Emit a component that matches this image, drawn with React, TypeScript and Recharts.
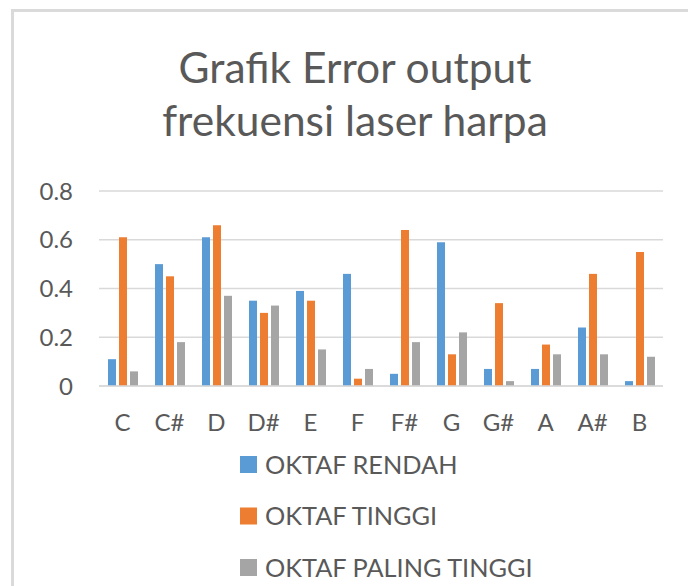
import React from 'react';
import { BarChart, Bar, XAxis, YAxis, CartesianGrid } from 'recharts';

const categories = ['C', 'C#', 'D', 'D#', 'E', 'F', 'F#', 'G', 'G#', 'A', 'A#', 'B'];
const oktafRendah = [0.11, 0.5, 0.61, 0.35, 0.39, 0.46, 0.05, 0.59, 0.07, 0.07, 0.24, 0.02];
const oktafTinggi = [0.61, 0.45, 0.66, 0.3, 0.35, 0.03, 0.64, 0.13, 0.34, 0.17, 0.46, 0.55];
const oktafPalingTinggi = [0.06, 0.18, 0.37, 0.33, 0.15, 0.07, 0.18, 0.22, 0.02, 0.13, 0.13, 0.12];
const yTicks = [0, 0.2, 0.4, 0.6, 0.8];
const titleLines = ['Grafik Error output', 'frekuensi laser harpa'];
const seriesNames = ['OKTAF RENDAH', 'OKTAF TINGGI', 'OKTAF PALING TINGGI'];
const seriesColors = ['#5B9BD5', '#ED7D31', '#A5A5A5'];

const data = categories.map((c, i) => ({
  name: c,
  rendah: oktafRendah[i],
  tinggi: oktafTinggi[i],
  paling: oktafPalingTinggi[i],
}));
const keys = ['rendah', 'tinggi', 'paling'];

const FONT = 'Lato, "Open Sans", sans-serif';
const TEXT = '#595959';

export default function App() {
  return (
    <div style={{ position: 'fixed', left: 0, top: 0, width: 688, height: 586, overflow: 'hidden', background: '#fff' }}>
      <div
        style={{
          position: 'absolute',
          left: 11,
          top: 9,
          width: 800,
          height: 800,
          border: '3px solid #dadada',
          boxSizing: 'border-box',
        }}
      />
      <div style={{ position: 'absolute', left: 0, top: 0 }}>
        <BarChart
          width={688}
          height={586}
          data={data}
          margin={{ top: 191, right: 25, bottom: 170, left: 0 }}
          barSize={8}
          barGap={3}
        >
          <CartesianGrid vertical={false} stroke="#d9d9d9" strokeWidth={1.3} />
          <XAxis
            dataKey="name"
            height={30}
            axisLine={{ stroke: '#d9d9d9', strokeWidth: 1.3 }}
            tickLine={false}
            tickMargin={22}
            interval={0}
            tick={{ fill: TEXT, fontSize: 24, fontFamily: FONT }}
          />
          <YAxis
            width={99}
            domain={[0, 0.8]}
            ticks={yTicks}
            axisLine={false}
            tickLine={false}
            tickMargin={20}
            tickFormatter={(v: number) => (v === 0 ? '0' : String(v))}
            tick={{ fill: TEXT, fontSize: 24, fontFamily: FONT }}
          />
          {keys.map((k, i) => (
            <Bar key={k} dataKey={k} name={seriesNames[i]} fill={seriesColors[i]} isAnimationActive={false} />
          ))}
        </BarChart>
      </div>
      <svg width={688} height={586} style={{ position: 'absolute', left: 0, top: 0, pointerEvents: 'none' }}>
        {titleLines.map((t, i) => (
          <text key={t} x={355} y={83 + i * 53} textAnchor="middle" fill={TEXT} fontSize={42.5} fontFamily={FONT}>
            {t}
          </text>
        ))}
        {seriesNames.map((n, i) => (
          <g key={n}>
            <rect x={240} y={456 + i * 51.5} width={17} height={17} fill={seriesColors[i]} />
            <text x={265} y={473.5 + i * 51.5} fill={TEXT} fontSize={25.3} fontFamily={FONT}>
              {n}
            </text>
          </g>
        ))}
      </svg>
    </div>
  );
}
